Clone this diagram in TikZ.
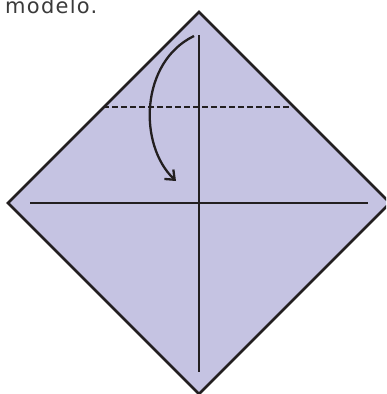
\documentclass[tikz,border=0pt]{standalone}
\usepackage{fontspec}
\usetikzlibrary{arrows.meta}
\newfontfamily\captionfont[LetterSpace=6]{DejaVu Sans}
\definecolor{paperLilac}{HTML}{C5C3E2}
\definecolor{creaseInk}{HTML}{231F20}
\definecolor{textGray}{HTML}{3A3A3A}

\begin{document}
\begin{tikzpicture}[x=1pt, y=-1pt,
  sheet/.style={fill=paperLilac, draw=creaseInk, line width=2.6pt, line join=miter},
  crease/.style={line width=2.9pt, draw=creaseInk},
  valley/.style={crease, dash pattern=on 6pt off 3pt},
  foldarrow/.style={line width=2.3pt, draw=creaseInk, -{Straight Barb[length=8pt, width=13pt, line width=2.3pt]}}]
  \useasboundingbox (0,0) rectangle (386,394);
  \clip (0,0) rectangle (386,394);

  % the square, turned on its corner
  \coordinate (top) at (199,12);
  \coordinate (left) at (8,203);
  \coordinate (bottom) at (199,394);
  \coordinate (right) at (390,203);
  \draw[sheet] (top) -- (right) -- (bottom) -- (left) -- cycle;

  % creases
  \coordinate (vTop) at (199,35);
  \coordinate (vBot) at (199,372);
  \coordinate (hLeft) at (30,203);
  \coordinate (hRight) at (368,203);
  \draw[crease] (vTop) -- (vBot);
  \draw[crease] (hLeft) -- (hRight);
  \coordinate (foldL) at (103,107);
  \coordinate (foldR) at (292,107);
  \draw[valley] (foldL) -- (foldR);

  % fold the tip down
  \coordinate (arrowStart) at (194,36);
  \coordinate (arrowEnd) at (176,181);
  \draw[foldarrow] (arrowStart) .. controls (140,62) and (138,145) .. (arrowEnd);

  \node[anchor=base west, inner sep=0pt, textGray, font=\captionfont\fontsize{21}{23}\selectfont] (caption) at (5,13) {modelo.};
\end{tikzpicture}
\end{document}
